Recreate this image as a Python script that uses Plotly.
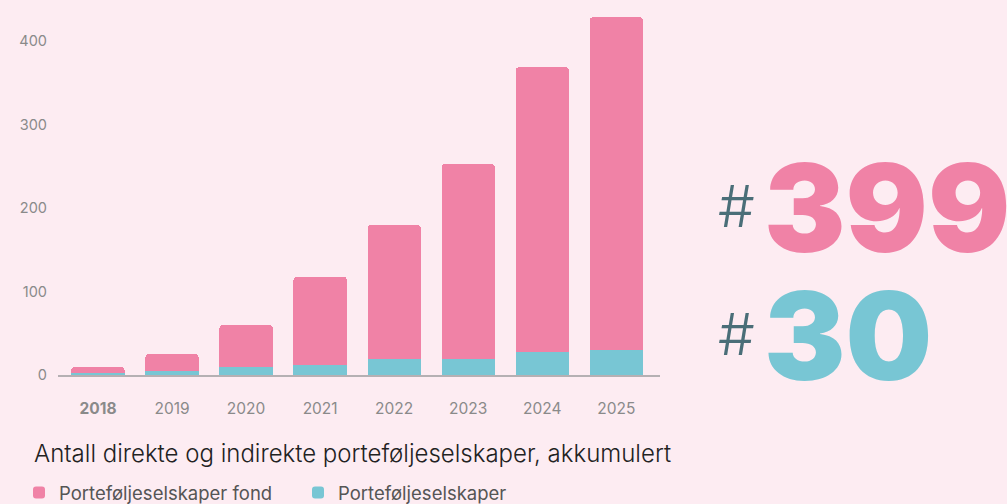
import plotly.graph_objects as go

years = ["2018", "2019", "2020", "2021", "2022", "2023", "2024", "2025"]
tick_text = ["<b>2018</b>", "2019", "2020", "2021", "2022", "2023", "2024", "2025"]
direct = [2, 5, 10, 12, 19, 19, 27, 30]
fund = [8, 20, 50, 106, 161, 234, 342, 399]
y_ticks = [0, 100, 200, 300, 400]

PINK = "#F082A6"
TEAL = "#78C6D4"
BG = "#FDECF2"

fig = go.Figure()
fig.add_trace(go.Bar(x=years, y=direct, name="Porteføljeselskaper",
                     marker=dict(color=TEAL, line=dict(width=0)), legendrank=2))
fig.add_trace(go.Bar(x=years, y=fund, name="Porteføljeselskaper fond",
                     marker=dict(color=PINK, line=dict(width=0)), legendrank=1))

L, R, T, B = 58, 347, 8, 129
ph = 504 - T - B

def py(p):
    return (504 - B - p) / ph

def px(p):
    return (p - L) / (1007 - L - R)

fig.update_layout(
    width=1007, height=504,
    margin=dict(l=L, r=R, t=T, b=B, autoexpand=False),
    paper_bgcolor=BG, plot_bgcolor=BG,
    barmode="stack", bargap=0.28, barcornerradius=4,
    font=dict(family="Inter", color="#888888", size=14),
    xaxis=dict(range=[-0.54, 7.59], tickmode="array", tickvals=years, ticktext=tick_text,
               showline=True, linecolor="#b5b0b3", linewidth=1.5, showgrid=False,
               ticks="", ticklen=0, tickfont=dict(size=15.5, color="#8a8a8a"), zeroline=False,
               ticklabelstandoff=19, automargin=False),
    yaxis=dict(range=[0, 440], tickvals=y_ticks, showgrid=False, zeroline=False,
               showline=False, ticks="", tickfont=dict(size=14.5, color="#8a8a8a"),
               ticklabelstandoff=10, automargin=False),
    showlegend=True,
    legend=dict(orientation="h", x=px(19), xanchor="left", y=py(493), yanchor="middle",
                font=dict(size=18.5, color="#555555"), itemwidth=30, bgcolor="rgba(0,0,0,0)",
                traceorder="normal", entrywidth=234),
)

fig.add_annotation(text="Antall direkte og indirekte porteføljeselskaper, akkumulert",
                   xref="paper", yref="paper", x=px(32), y=py(453), xanchor="left", yanchor="middle",
                   showarrow=False, font=dict(family="Inter", size=24, color="#222222", weight=300))
fig.add_annotation(text="#", xref="paper", yref="paper", x=px(716), y=py(206), xanchor="left",
                   yanchor="middle", showarrow=False,
                   font=dict(family="Inter", size=58, color="#4A6E78", weight=300))
fig.add_annotation(text="#", xref="paper", yref="paper", x=px(716), y=py(334), xanchor="left",
                   yanchor="middle", showarrow=False,
                   font=dict(family="Inter", size=58, color="#4A6E78", weight=300))
fig.add_annotation(text=str(fund[-1]), xref="paper", yref="paper", x=px(762), y=py(207),
                   xanchor="left", yanchor="middle", showarrow=False,
                   font=dict(family="Inter", size=122, color=PINK, weight=900))
fig.add_annotation(text=str(direct[-1]), xref="paper", yref="paper", x=px(762), y=py(335),
                   xanchor="left", yanchor="middle", showarrow=False,
                   font=dict(family="Inter", size=122, color=TEAL, weight=900))

post = ("var d=document.getElementById('{plot_id}');"
        "d.style.position='absolute';d.style.top='0';d.style.left='0';"
        "document.body.style.margin='0';document.body.style.overflow='hidden';"
        "document.documentElement.style.overflow='hidden';")
fig.write_html("out.html", post_script=post, config={"displayModeBar": False})
